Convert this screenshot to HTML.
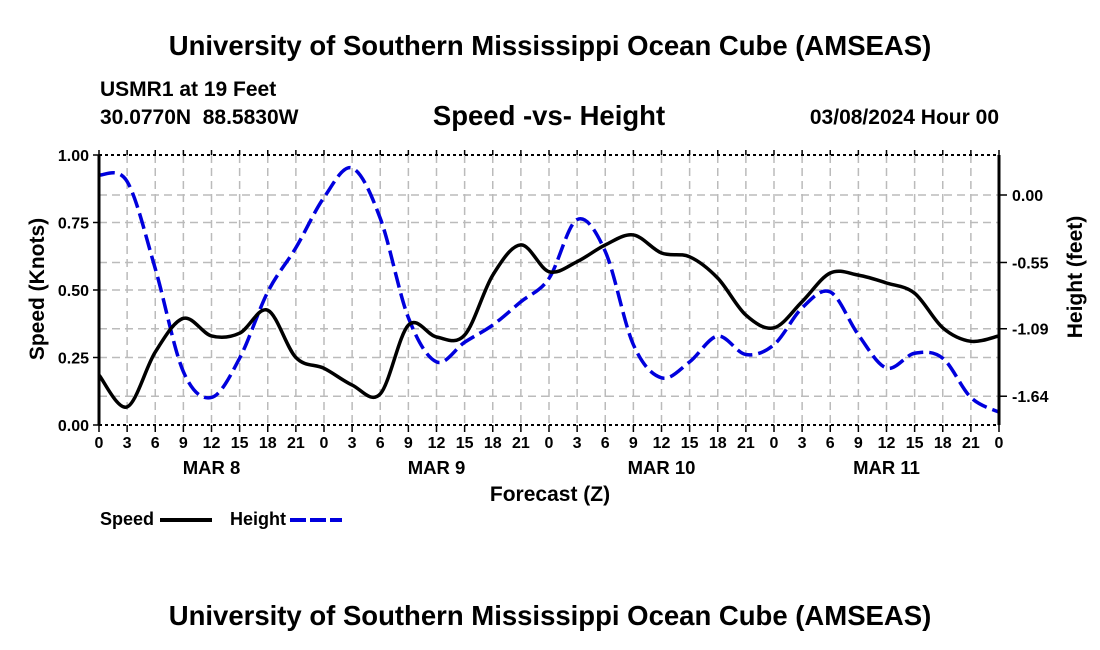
<!DOCTYPE html>
<html><head><meta charset="utf-8"><style>
body{margin:0;background:#fff}
svg{display:block;font-family:"Liberation Sans",Arial,sans-serif;font-weight:bold}
</style></head><body>
<svg id="chart" width="1100" height="650" viewBox="0 0 1100 650">
<text x="550" y="55" text-anchor="middle" font-size="27.5">University of Southern Mississippi Ocean Cube (AMSEAS)</text>
<text x="100" y="96" font-size="21">USMR1 at 19 Feet</text>
<text x="100" y="124" font-size="21" xml:space="preserve">30.0770N  88.5830W</text>
<text x="549" y="125" text-anchor="middle" font-size="27.5">Speed -vs- Height</text>
<text x="999" y="124" text-anchor="end" font-size="21">03/08/2024 Hour 00</text>
<g id="grid"></g>
<g id="series"></g>
<g id="axes"></g>
<text x="550" y="501" text-anchor="middle" font-size="21">Forecast (Z)</text>
<text transform="translate(44,289) rotate(-90)" text-anchor="middle" font-size="21">Speed (Knots)</text>
<text transform="translate(1082,277) rotate(-90)" text-anchor="middle" font-size="21">Height (feet)</text>
<g>
<text x="100" y="525" font-size="18">Speed</text>
<line x1="160" y1="520" x2="212" y2="520" stroke="#000" stroke-width="4"/>
<text x="230" y="525" font-size="18">Height</text>
<line x1="290" y1="520" x2="342" y2="520" stroke="#0000dd" stroke-width="4" stroke-dasharray="16,4"/>
</g>
<text x="550" y="625" text-anchor="middle" font-size="27.5">University of Southern Mississippi Ocean Cube (AMSEAS)</text>
</svg>
<script>
const hours=[0,3,6,9,12,15,18,21,24,27,30,33,36,39,42,45,48,51,54,57,60,63,66,69,72,75,78,81,84,87,90,93,96];
const speed=[0.185,0.067,0.27,0.395,0.33,0.34,0.425,0.25,0.21,0.148,0.115,0.37,0.326,0.333,0.555,0.667,0.568,0.605,0.667,0.704,0.637,0.623,0.544,0.407,0.36,0.457,0.563,0.555,0.526,0.488,0.36,0.31,0.33];
const height=[0.163,0.11,-0.6,-1.44,-1.65,-1.33,-0.79,-0.43,-0.02,0.22,-0.19,-1.0,-1.36,-1.2,-1.06,-0.87,-0.68,-0.2,-0.46,-1.22,-1.49,-1.36,-1.15,-1.30,-1.22,-0.92,-0.79,-1.14,-1.41,-1.29,-1.33,-1.65,-1.77];
const xTickLabels=["0","3","6","9","12","15","18","21"];
const dayLabels=["MAR 8","MAR 9","MAR 10","MAR 11"];
const speedTicks=[0,0.25,0.5,0.75,1.0];
const heightTicks=[0,-0.55,-1.09,-1.64];

const X0=99,X1=999,Y0=425,Y1=155;
const xs=h=>X0+h/96*(X1-X0);
const ys=v=>Y0-v*(Y0-Y1);
const yh=v=>195-v*122.7;
const NS="http://www.w3.org/2000/svg";
function mk(tag,attrs,parent){const e=document.createElementNS(NS,tag);for(const k in attrs)e.setAttribute(k,attrs[k]);parent.appendChild(e);return e;}
const grid=document.getElementById('grid'),axes=document.getElementById('axes'),series=document.getElementById('series');
for(let h=3;h<96;h+=3){const l=mk('line',{x1:xs(h),x2:xs(h),y1:Y1,y2:Y0,stroke:'#bbb','stroke-width':1.5,'stroke-dasharray':'8,5'},grid);

}
const hy=[...speedTicks.slice(1,4).map(ys),...heightTicks.map(yh)];
hy.forEach(y=>{const l=mk('line',{x1:X0,x2:X1,y1:y,y2:y,stroke:'#bbb','stroke-width':1.5,'stroke-dasharray':'8,5'},grid);

});
function smooth(pts){let d=`M${pts[0][0]},${pts[0][1]}`;for(let i=0;i<pts.length-1;i++){const p0=pts[Math.max(0,i-1)],p1=pts[i],p2=pts[i+1],p3=pts[Math.min(pts.length-1,i+2)];
d+=` C${p1[0]+(p2[0]-p0[0])/6},${p1[1]+(p2[1]-p0[1])/6} ${p2[0]-(p3[0]-p1[0])/6},${p2[1]-(p3[1]-p1[1])/6} ${p2[0]},${p2[1]}`;}return d;}
const hp=mk('path',{d:smooth(hours.map((h,i)=>[xs(h),yh(height[i])])),fill:'none',stroke:'#0000dd','stroke-width':3.5,'stroke-dasharray':'16,6'},series);


const sp=mk('path',{d:smooth(hours.map((h,i)=>[xs(h),ys(speed[i])])),fill:'none',stroke:'#000','stroke-width':3.5},series);


const fr=[[X0,Y1,X0,Y0,3],[X1,Y1,X1,Y0,3]];
fr.forEach(f=>{const l=mk('line',{x1:f[0],y1:f[1],x2:f[2],y2:f[3],stroke:'#000','stroke-width':f[4]},axes);

});
[Y1,Y0].forEach(y=>{const l=mk('line',{x1:X0,y1:y,x2:X1,y2:y,stroke:'#000','stroke-width':2,'stroke-dasharray':'3,3'},axes);

});
for(let h=0;h<=96;h+=3){const x=xs(h);
const t=mk('line',{x1:x,x2:x,y1:Y0,y2:Y0+7,stroke:'#000','stroke-width':1.5},axes);


const t2=mk('line',{x1:x,x2:x,y1:Y1-5,y2:Y1,stroke:'#000','stroke-width':1.5},axes);


const tx=mk('text',{x:x,y:Y0+23,'text-anchor':'middle','font-size':16},axes);tx.textContent=xTickLabels[(h/3)%8];

}
dayLabels.forEach((d,i)=>{const tx=mk('text',{x:xs(12+24*i),y:Y0+49,'text-anchor':'middle','font-size':18.5},axes);tx.textContent=d;

});
speedTicks.forEach(v=>{const y=ys(v);
const t=mk('line',{x1:X0-6,x2:X0,y1:y,y2:y,stroke:'#000','stroke-width':1.5},axes);


const tx=mk('text',{x:X0-10,y:y+6,'text-anchor':'end','font-size':16},axes);tx.textContent=v.toFixed(2);

});
heightTicks.forEach(v=>{const y=yh(v);
const t=mk('line',{x1:X1,x2:X1+8,y1:y,y2:y,stroke:'#000','stroke-width':1.5},axes);


const tx=mk('text',{x:X1+13,y:y+6,'font-size':16},axes);tx.textContent=v.toFixed(2);

});
</script>
</body></html>
